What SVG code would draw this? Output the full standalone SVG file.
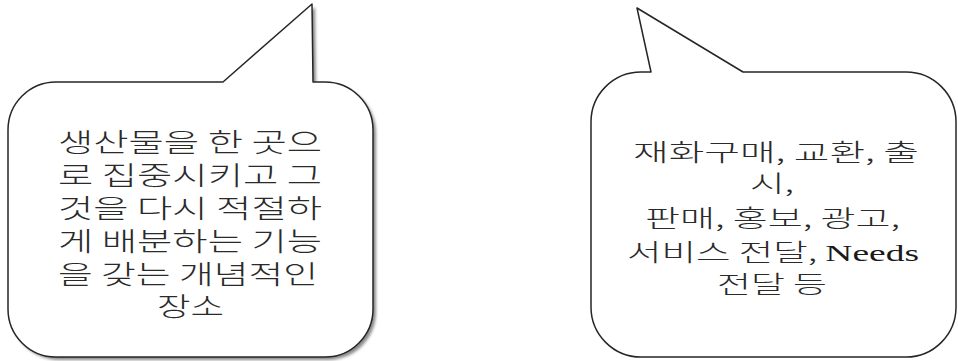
<svg xmlns="http://www.w3.org/2000/svg" width="958" height="361" viewBox="0 0 958 361">
  <style>
    .bubble { fill: #ffffff; stroke: #262626; stroke-width: 1.5; stroke-linejoin: round; }
    .shadow { fill: #8a8a8a; }
    .kt { font-family: "Noto Sans CJK KR", sans-serif; font-weight: 300; fill: #2a2a2a; }
    .l { font-size: 26px; }
    .r { font-size: 24px; }
    .en { font-family: "Liberation Serif", serif; font-weight: normal; fill: #1a1a1a; }
  </style>
  <defs>
    <filter id="blur" x="-5%" y="-5%" width="110%" height="110%">
      <feGaussianBlur stdDeviation="1.4"/>
    </filter>
  </defs>

  <g id="callout-left">
    <path class="shadow" filter="url(#blur)" transform="translate(3,3)" d="M 56,82 L 223,82 L 312,4 L 313,82 L 325,82 A 48 48 0 0 1 373,130 L 373,309 A 48 48 0 0 1 325,357 L 56,357 A 48 48 0 0 1 8,309 L 8,130 A 48 48 0 0 1 56,82 Z"/>
    <path class="bubble" d="M 56,82 L 223,82 L 312,4 L 313,82 L 325,82 A 48 48 0 0 1 373,130 L 373,309 A 48 48 0 0 1 325,357 L 56,357 A 48 48 0 0 1 8,309 L 8,130 A 48 48 0 0 1 56,82 Z"/>
    <g class="kt l">
      <text x="58" y="152" textLength="264" lengthAdjust="spacingAndGlyphs">생산물을 한 곳으</text>
      <text x="58" y="185" textLength="264" lengthAdjust="spacingAndGlyphs">로 집중시키고 그</text>
      <text x="58" y="218" textLength="264" lengthAdjust="spacingAndGlyphs">것을 다시 적절하</text>
      <text x="58" y="251" textLength="264" lengthAdjust="spacingAndGlyphs">게 배분하는 기능</text>
      <text x="58" y="284" textLength="260" lengthAdjust="spacingAndGlyphs">을 갖는 개념적인</text>
      <text x="157" y="316" textLength="67" lengthAdjust="spacingAndGlyphs">장소</text>
    </g>
  </g>

  <g id="callout-right">
    <path class="bubble" d="M 641,72 L 651,72 L 637,8 L 743,72 L 906,72 A 50 50 0 0 1 956,122 L 956,307 A 50 50 0 0 1 906,357 L 641,357 A 50 50 0 0 1 591,307 L 591,122 A 50 50 0 0 1 641,72 Z"/>
    <g class="kt r">
      <text x="633" y="161" textLength="286" lengthAdjust="spacingAndGlyphs">재화구매, 교환, 출</text>
      <text x="750" y="192" textLength="44" lengthAdjust="spacingAndGlyphs">시,</text>
      <text x="645" y="227" textLength="255" lengthAdjust="spacingAndGlyphs">판매, 홍보, 광고,</text>
      <text x="627" y="261" textLength="292" lengthAdjust="spacingAndGlyphs">서비스 전달, <tspan class="en">Needs</tspan></text>
      <text x="717" y="293" textLength="110" lengthAdjust="spacingAndGlyphs">전달 등</text>
    </g>
  </g>

  <g id="connectors"/>
</svg>
